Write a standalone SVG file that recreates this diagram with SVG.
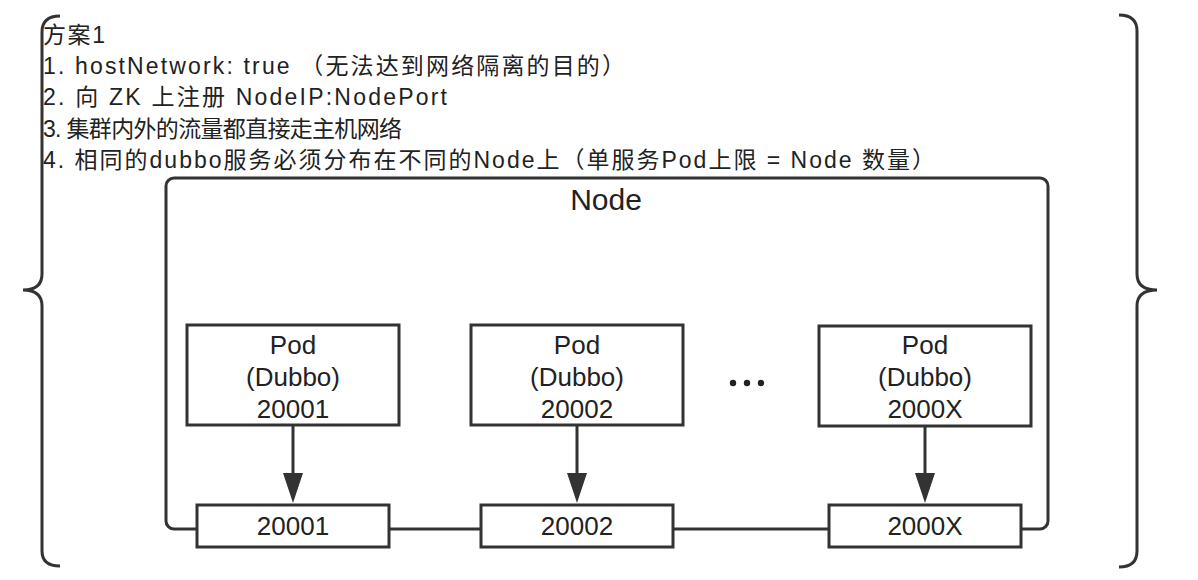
<svg xmlns="http://www.w3.org/2000/svg" width="1198" height="580" viewBox="0 0 1198 580">
<style>
  .ln{fill:none;stroke:#333;stroke-width:3}
  .box{fill:#fff;stroke:#333;stroke-width:3}
  .hd{font-family:"Liberation Sans","Noto Sans CJK SC",sans-serif;font-size:23px;fill:#222}
  .lbl{font-family:"Liberation Sans","Noto Sans CJK SC",sans-serif;font-size:26px;fill:#222;text-anchor:middle}
  .big{font-family:"Liberation Sans","Noto Sans CJK SC",sans-serif;font-size:30px;fill:#222;text-anchor:middle}
</style>
<defs>
  <marker id="arr" markerUnits="userSpaceOnUse" markerWidth="30" markerHeight="20" viewBox="0 0 30 20" refX="20" refY="10" orient="auto">
    <path d="M0,0 L30,10 L0,20 z" fill="#333"/>
  </marker>
</defs>
<rect width="1198" height="580" fill="#fff"/>
<g id="braces">
  <path class="ln" d="M60 16 Q42 16 42 32 L42 274 Q42 290 23 290 Q42 290 42 306 L42 551 Q42 566 60 566"/>
  <path class="ln" d="M1119 15 Q1137 15 1137 31 L1137 274 Q1137 290 1157 290 Q1137 290 1137 306 L1137 551 Q1137 567 1119 567"/>
</g>
<g id="header">
  <text class="hd" x="43" y="43" textLength="62" lengthAdjust="spacing">方案1</text>
  <text class="hd" x="43" y="74" textLength="582" lengthAdjust="spacing">1. hostNetwork: true （无法达到网络隔离的目的）</text>
  <text class="hd" x="43" y="105" textLength="404" lengthAdjust="spacing">2. 向 ZK 上注册 NodeIP:NodePort</text>
  <text class="hd" x="43" y="137" textLength="359" lengthAdjust="spacing">3. 集群内外的流量都直接走主机网络</text>
  <text class="hd" x="43" y="168" textLength="892" lengthAdjust="spacing">4. 相同的dubbo服务必须分布在不同的Node上（单服务Pod上限 = Node 数量）</text>
</g>
<g id="node">
  <rect class="ln" x="166" y="178" width="882" height="351" rx="8"/>
  <text class="big" x="606" y="210">Node</text>
</g>
<g id="connectors">
  <line class="ln" x1="293" y1="425" x2="293" y2="493" marker-end="url(#arr)"/>
  <line class="ln" x1="577" y1="425" x2="577" y2="493" marker-end="url(#arr)"/>
  <line class="ln" x1="925" y1="426" x2="925" y2="493" marker-end="url(#arr)"/>
</g>
<g id="pod1">
  <rect class="box" x="187" y="325" width="212" height="100"/>
  <text class="lbl" x="293" y="354">Pod</text>
  <text class="lbl" x="293" y="386">(Dubbo)</text>
  <text class="lbl" x="293" y="418">20001</text>
</g>
<g id="pod2">
  <rect class="box" x="471" y="325" width="212" height="100"/>
  <text class="lbl" x="577" y="354">Pod</text>
  <text class="lbl" x="577" y="386">(Dubbo)</text>
  <text class="lbl" x="577" y="418">20002</text>
</g>
<g id="dots" fill="#222">
  <circle cx="733" cy="383" r="3.2"/>
  <circle cx="747" cy="383" r="3.2"/>
  <circle cx="761" cy="383" r="3.2"/>
</g>
<g id="pod3">
  <rect class="box" x="819" y="326" width="212" height="100"/>
  <text class="lbl" x="925" y="354">Pod</text>
  <text class="lbl" x="925" y="386">(Dubbo)</text>
  <text class="lbl" x="925" y="418">2000X</text>
</g>
<g id="port1">
  <rect class="box" x="197" y="505" width="192" height="42"/>
  <text class="lbl" x="293" y="535">20001</text>
</g>
<g id="port2">
  <rect class="box" x="481" y="505" width="192" height="42"/>
  <text class="lbl" x="577" y="535">20002</text>
</g>
<g id="port3">
  <rect class="box" x="829" y="505" width="192" height="42"/>
  <text class="lbl" x="925" y="535">2000X</text>
</g>
</svg>
